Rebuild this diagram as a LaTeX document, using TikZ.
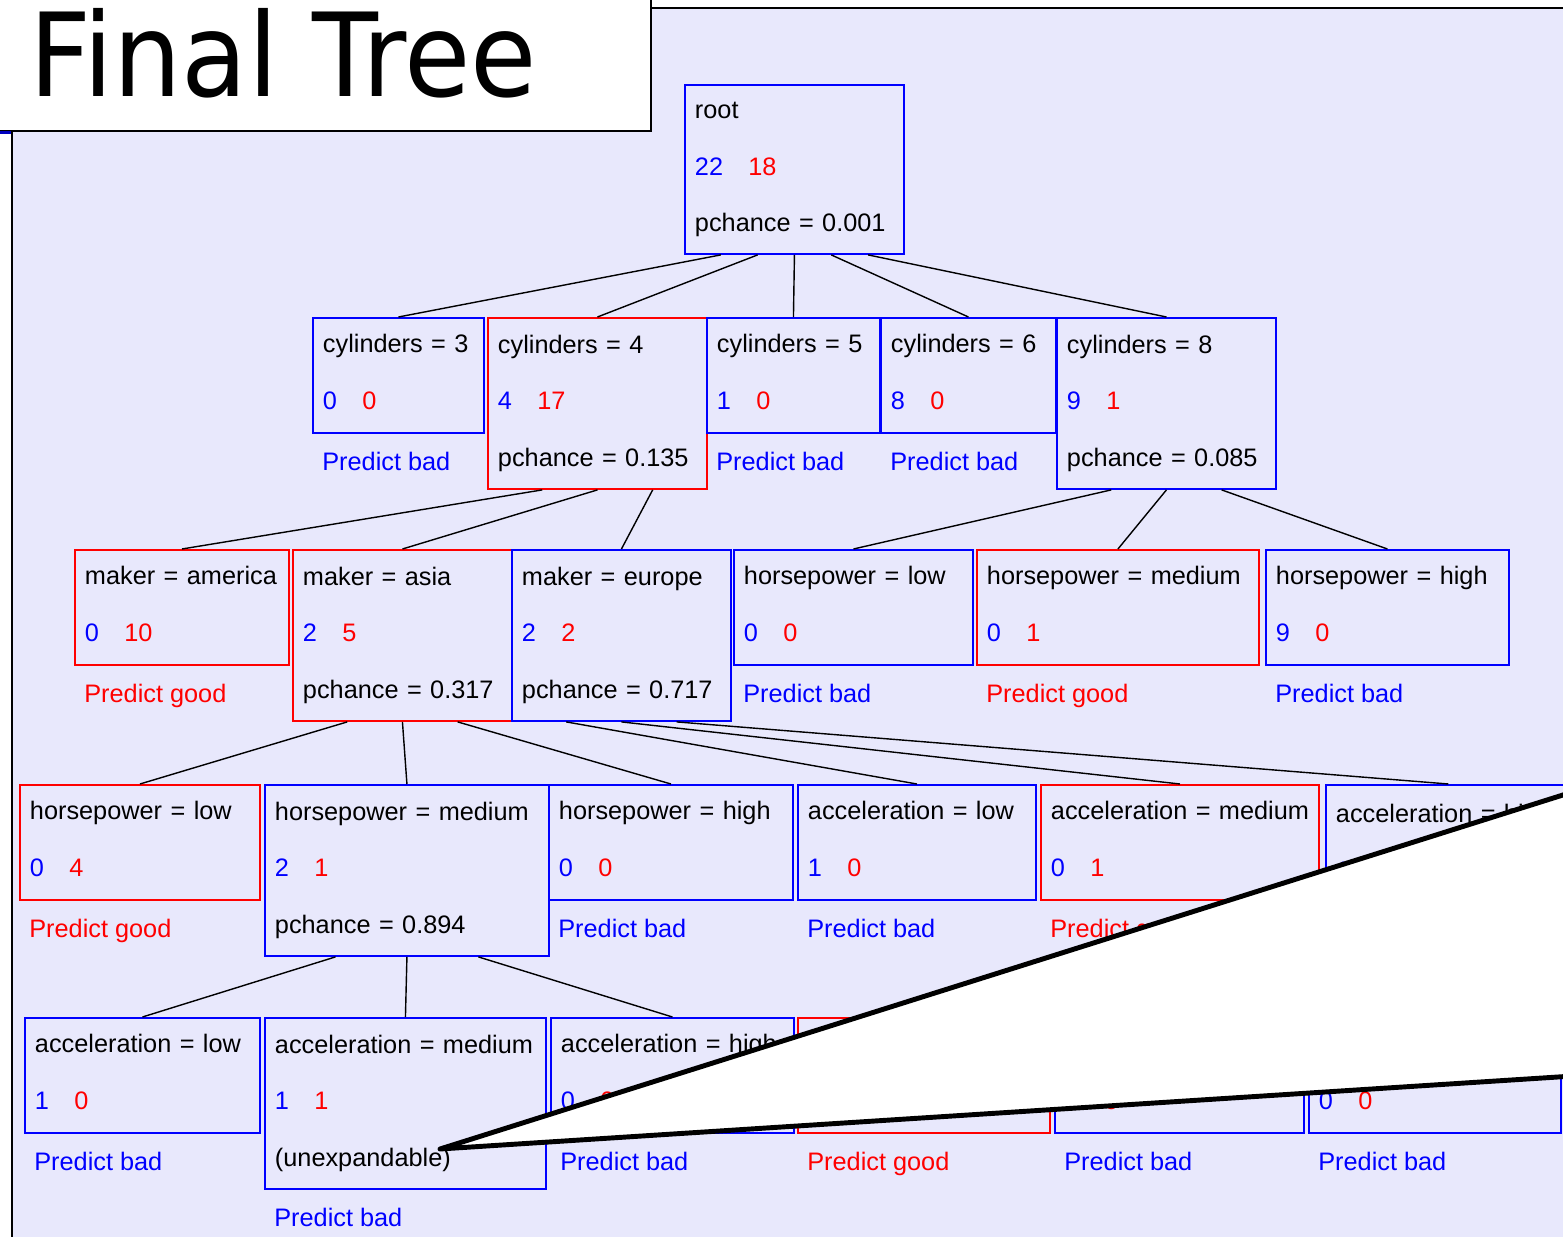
\documentclass[tikz,border=0pt]{standalone}
\usepackage{fontspec}
\setmainfont{Liberation Sans}
\newfontfamily\titlefont{DejaVu Sans}
\usepackage{graphicx}
\usepackage{tikz}
\usetikzlibrary{positioning, calc}
\definecolor{Panel}{HTML}{E8E8FC}
\definecolor{Bl}{HTML}{0000FF}
\definecolor{Rd}{HTML}{FF0000}
\newcommand{\bn}[1]{\textcolor{Bl}{#1}}
\newcommand{\rn}[1]{\textcolor{Rd}{#1}}

\begin{document}
\begin{tikzpicture}[
    x=0.02cm, y=-0.02cm,
    font=\fontsize{14.4pt}{32.4pt}\selectfont,
    bbox/.style={draw=Bl, line width=1.1pt, anchor=north west, align=left, inner xsep=0.2cm, inner ysep=0pt},
    rbox/.style={bbox, draw=Rd},
    twoline/.style={minimum height=2.30cm, execute at end node={\rule[-4pt]{0pt}{1pt}}},
    threeline/.style={minimum height=3.42cm},
    pbad/.style={anchor=base west, inner sep=0pt, text=Bl},
    pgood/.style={pbad, text=Rd},
    edge/.style={line width=0.8pt, black}
  ]
    \useasboundingbox (0,0) rectangle (1563,1237);
    \clip (0,0) rectangle (1563,1237);

    % panel and title
    \fill[Panel] (12,8) rectangle (1620,1260);
    \draw[line width=1.6pt] (12,1260) -- (12,8) -- (1620,8);
    \draw[fill=white, line width=1.3pt] (-20,-20) rectangle (651,131);
    \fill[Bl!75!black] (0,131) rectangle (11,134);
    \node[anchor=base west, inner sep=0pt, font=\titlefont\fontsize{66pt}{70pt}\selectfont] (title) at (29,97) {\scalebox{0.93}[1]{Final Tree}};

    % level 0
    \node[bbox, text width=3.98cm, minimum height=3.38cm] (root) at (684,84) {root\\ \bn{22}\quad\rn{18}\\ pchance = 0.001};

    % level 1
    \node[bbox, twoline, text width=3.02cm] (cyl3) at (312,317) {cylinders = 3\\ \bn{0}\quad\rn{0}};
    \node[rbox, threeline, text width=3.98cm] (cyl4) at (487,317) {cylinders = 4\\ \bn{4}\quad\rn{17}\\ pchance = 0.135};
    \node[bbox, twoline, text width=3.06cm] (cyl5) at (706,317) {cylinders = 5\\ \bn{1}\quad\rn{0}};
    \node[bbox, twoline, text width=3.10cm] (cyl6) at (880,317) {cylinders = 6\\ \bn{8}\quad\rn{0}};
    \node[bbox, threeline, text width=3.98cm] (cyl8) at (1056,317) {cylinders = 8\\ \bn{9}\quad\rn{1}\\ pchance = 0.085};
    \node[pbad] (cyl3p) at ($(cyl3.south west)+(10,37)$) {Predict bad};
    \node[pbad] (cyl5p) at ($(cyl5.south west)+(10,37)$) {Predict bad};
    \node[pbad] (cyl6p) at ($(cyl6.south west)+(10,37)$) {Predict bad};

    % level 2
    \node[rbox, twoline, text width=3.88cm] (amer) at (74,549) {maker = america\\ \bn{0}\quad\rn{10}};
    \node[rbox, threeline, text width=3.98cm] (asia) at (292,549) {maker = asia\\ \bn{2}\quad\rn{5}\\ pchance = 0.317};
    \node[bbox, threeline, text width=3.98cm] (euro) at (511,549) {maker = europe\\ \bn{2}\quad\rn{2}\\ pchance = 0.717};
    \node[bbox, twoline, text width=4.38cm] (hplow8) at (733,549) {horsepower = low\\ \bn{0}\quad\rn{0}};
    \node[rbox, twoline, text width=5.24cm] (hpmed8) at (976,549) {horsepower = medium\\ \bn{0}\quad\rn{1}};
    \node[bbox, twoline, text width=4.46cm] (hphigh8) at (1265,549) {horsepower = high\\ \bn{9}\quad\rn{0}};
    \node[pgood] (amerp) at ($(amer.south west)+(10,37)$) {Predict good};
    \node[pbad] (hplow8p) at ($(hplow8.south west)+(10,37)$) {Predict bad};
    \node[pgood] (hpmed8p) at ($(hpmed8.south west)+(10,37)$) {Predict good};
    \node[pbad] (hphigh8p) at ($(hphigh8.south west)+(10,37)$) {Predict bad};

    % level 3
    \node[rbox, twoline, text width=4.40cm] (hplow) at (19,784) {horsepower = low\\ \bn{0}\quad\rn{4}};
    \node[bbox, threeline, text width=5.28cm] (hpmed) at (264,784) {horsepower = medium\\ \bn{2}\quad\rn{1}\\ pchance = 0.894};
    \node[bbox, twoline, text width=4.48cm] (hphigh) at (548,784) {horsepower = high\\ \bn{0}\quad\rn{0}};
    \node[bbox, twoline, text width=4.36cm] (acclow) at (797,784) {acceleration = low\\ \bn{1}\quad\rn{0}};
    \node[rbox, twoline, text width=5.16cm] (accmed) at (1040,784) {\mbox{acceleration = medium}\\ \bn{0}\quad\rn{1}};
    \node[bbox, threeline, text width=4.50cm] (acchigh) at (1325,784) {acceleration = high\\ \bn{1}\quad\rn{1}\\ \mbox{}};
    \node[pgood] (hplowp) at ($(hplow.south west)+(10,37)$) {Predict good};
    \node[pbad] (hphighp) at ($(hphigh.south west)+(10,37)$) {Predict bad};
    \node[pbad] (acclowp) at ($(acclow.south west)+(10,37)$) {Predict bad};
    \node[pgood] (accmedp) at ($(accmed.south west)+(10,37)$) {Predict good};

    % level 4
    \node[bbox, twoline, text width=4.30cm] (acclow2) at (24,1017) {acceleration = low\\ \bn{1}\quad\rn{0}};
    \node[bbox, threeline, text width=5.22cm] (accmed2) at (264,1017) {\mbox{acceleration = medium}\\ \bn{1}\quad\rn{1}\\ (unexpandable)};
    \node[bbox, twoline, text width=4.46cm] (acchigh2) at (550,1017) {acceleration = high\\ \bn{0}\quad\rn{0}};
    \node[rbox, twoline, text width=4.64cm] (leafa) at (797,1017) {};
    \node[bbox, twoline, text width=4.58cm] (leafb) at (1054,1017) {\vphantom{l}\\ \bn{1}\quad\rn{0}};
    \node[bbox, twoline, text width=4.64cm] (leafc) at (1308,1017) {\vphantom{l}\\ \bn{0}\quad\rn{0}};
    \node[pbad] (acclow2p) at ($(acclow2.south west)+(10,37)$) {Predict bad};
    \node[pbad] (accmed2p) at ($(accmed2.south west)+(10,37)$) {Predict bad};
    \node[pbad] (acchigh2p) at ($(acchigh2.south west)+(10,37)$) {Predict bad};
    \node[pgood] (leafap) at ($(leafa.south west)+(10,37)$) {Predict good};
    \node[pbad] (leafbp) at ($(leafb.south west)+(10,37)$) {Predict bad};
    \node[pbad] (leafcp) at ($(leafc.south west)+(10,37)$) {Predict bad};

    % branches
    \draw[edge] ($(root.south west)!0.1667!(root.south east)$) -- (cyl3.north);
    \draw[edge] ($(root.south west)!0.3333!(root.south east)$) -- (cyl4.north);
    \draw[edge] ($(root.south west)!0.5!(root.south east)$) -- (cyl5.north);
    \draw[edge] ($(root.south west)!0.6667!(root.south east)$) -- (cyl6.north);
    \draw[edge] ($(root.south west)!0.8333!(root.south east)$) -- (cyl8.north);

    \draw[edge] ($(cyl4.south west)!0.25!(cyl4.south east)$) -- (amer.north);
    \draw[edge] ($(cyl4.south west)!0.5!(cyl4.south east)$) -- (asia.north);
    \draw[edge] ($(cyl4.south west)!0.75!(cyl4.south east)$) -- (euro.north);

    \draw[edge] ($(cyl8.south west)!0.25!(cyl8.south east)$) -- (hplow8.north);
    \draw[edge] ($(cyl8.south west)!0.5!(cyl8.south east)$) -- (hpmed8.north);
    \draw[edge] ($(cyl8.south west)!0.75!(cyl8.south east)$) -- (hphigh8.north);

    \draw[edge] ($(asia.south west)!0.25!(asia.south east)$) -- (hplow.north);
    \draw[edge] ($(asia.south west)!0.5!(asia.south east)$) -- (hpmed.north);
    \draw[edge] ($(asia.south west)!0.75!(asia.south east)$) -- (hphigh.north);

    \draw[edge] ($(euro.south west)!0.25!(euro.south east)$) -- (acclow.north);
    \draw[edge] ($(euro.south west)!0.5!(euro.south east)$) -- (accmed.north);
    \draw[edge] ($(euro.south west)!0.75!(euro.south east)$) -- (acchigh.north);

    \draw[edge] ($(hpmed.south west)!0.25!(hpmed.south east)$) -- (acclow2.north);
    \draw[edge] ($(hpmed.south west)!0.5!(hpmed.south east)$) -- (accmed2.north);
    \draw[edge] ($(hpmed.south west)!0.75!(hpmed.south east)$) -- (acchigh2.north);

    \draw[edge] ($(acchigh.south west)!0.25!(acchigh.south east)$) -- (leafa.north);
    \draw[edge] ($(acchigh.south west)!0.5!(acchigh.south east)$) -- (leafb.north);
    \draw[edge] ($(acchigh.south west)!0.75!(acchigh.south east)$) -- (leafc.north);

    % callout
    \draw[fill=white, line width=2.8pt, line join=round] (440,1149) -- (1620,777) -- (1620,1073) -- cycle;
\end{tikzpicture}
\end{document}
